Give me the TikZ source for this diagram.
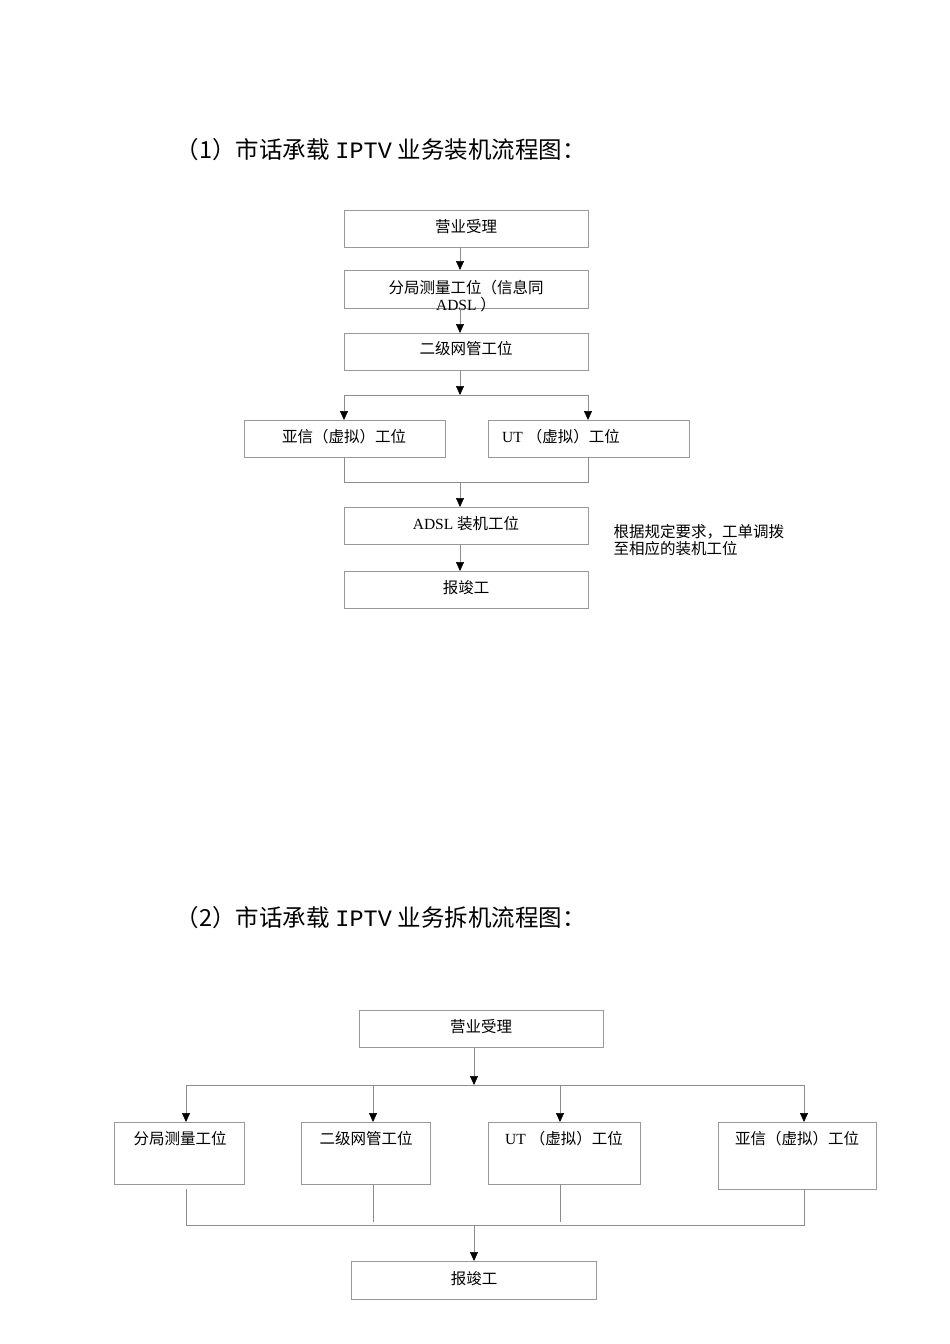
\documentclass[tikz,border=0pt]{standalone}
\usepackage{fontspec}
\setmainfont{Liberation Serif}
\newfontfamily\cjk{Noto Sans CJK SC}
\newfontfamily\mono{Liberation Mono}
\usetikzlibrary{arrows.meta}
\begin{document}
\begin{tikzpicture}[x=1pt,y=-1pt,
  bx/.style={draw=black!40,line width=0.6pt,minimum height=0pt},
  ln/.style={draw=black!45,line width=0.6pt},
  ar/.style={ln,-{Triangle[black,length=9pt,width=8pt]}},
  txt/.style={font=\fontsize{15.5}{17}\selectfont},
  ttl/.style={font=\fontsize{23.5}{26}\selectfont,anchor=west}]
\useasboundingbox (0,0) rectangle (950,1344);
\node[ttl] (t1) at (172,150) {{\cjk（1）市话承载} {\mono IPTV} {\cjk 业务装机流程图：}};
\node[ttl] (t2) at (172,918) {{\cjk（2）市话承载} {\mono IPTV} {\cjk 业务拆机流程图：}};
% top diagram
\draw[bx] (344,210) rectangle (588,247); \node[txt] (a1) at (466,227) {\cjk 营业受理};
\draw[bx] (344,270) rectangle (588,308); \node[txt,align=center] (b1) at (466,296) {\cjk 分局测量工位（信息同\\ADSL {\cjk ）}};
\draw[bx] (344,333) rectangle (588,370); \node[txt] (c1) at (466,349) {\cjk 二级网管工位};
\draw[bx] (244,420) rectangle (445,457); \node[txt] (d1) at (344,437) {\cjk 亚信（虚拟）工位};
\draw[bx] (488,420) rectangle (689,457); \node[txt] (e1) at (561,437) {UT {\cjk （虚拟）工位}};
\draw[bx] (344,507) rectangle (588,544); \node[txt] (f1) at (466,524) {ADSL {\cjk 装机工位}};
\draw[bx] (344,571) rectangle (588,608); \node[txt] (g1) at (466,588) {\cjk 报竣工};
\node[txt,anchor=west,align=left] (n1) at (610,540) {\cjk 根据规定要求，工单调拨\\\cjk 至相应的装机工位};
\coordinate (s1) at (460,395);
\coordinate (m1) at (460,482);
\draw[ar] (460,247) -- (460,270);
\draw[ar] (460,308) -- (460,333);
\draw[ar] (460,370) -- (s1);
\draw[ln] (344,395) -- (588,395);
\draw[ar] (344,395) -- (344,420);
\draw[ar] (588,395) -- (588,420);
\draw[ln] (344,457) -- (344,482) -- (588,482) -- (588,457);
\draw[ar] (m1) -- (460,507);
\draw[ar] (460,544) -- (460,571);
% bottom diagram
\draw[bx] (359,1010) rectangle (603,1047); \node[txt] (a2) at (481,1027) {\cjk 营业受理};
\draw[bx] (114,1122) rectangle (244,1184); \node[txt] (b2) at (180,1139) {\cjk 分局测量工位};
\draw[bx] (301,1122) rectangle (430,1184); \node[txt] (c2) at (366,1139) {\cjk 二级网管工位};
\draw[bx] (488,1122) rectangle (640,1184); \node[txt] (d2) at (564,1139) {UT {\cjk （虚拟）工位}};
\draw[bx] (718,1122) rectangle (876,1189); \node[txt] (e2) at (797,1139) {\cjk 亚信（虚拟）工位};
\draw[bx] (351,1261) rectangle (596,1299); \node[txt] (g2) at (474,1279) {\cjk 报竣工};
\draw[ar] (474,1047) -- (474,1085);
\draw[ln] (186,1085) -- (804,1085);
\foreach \x in {186,373,560,804} \draw[ar] (\x,1085) -- (\x,1122);
\draw[ln] (186,1189) -- (186,1225) -- (804,1225) -- (804,1189);
\draw[ln] (373,1184) -- (373,1222);
\draw[ln] (560,1184) -- (560,1222);
\draw[ar] (474,1225) -- (474,1261);
\end{tikzpicture}
\end{document}
